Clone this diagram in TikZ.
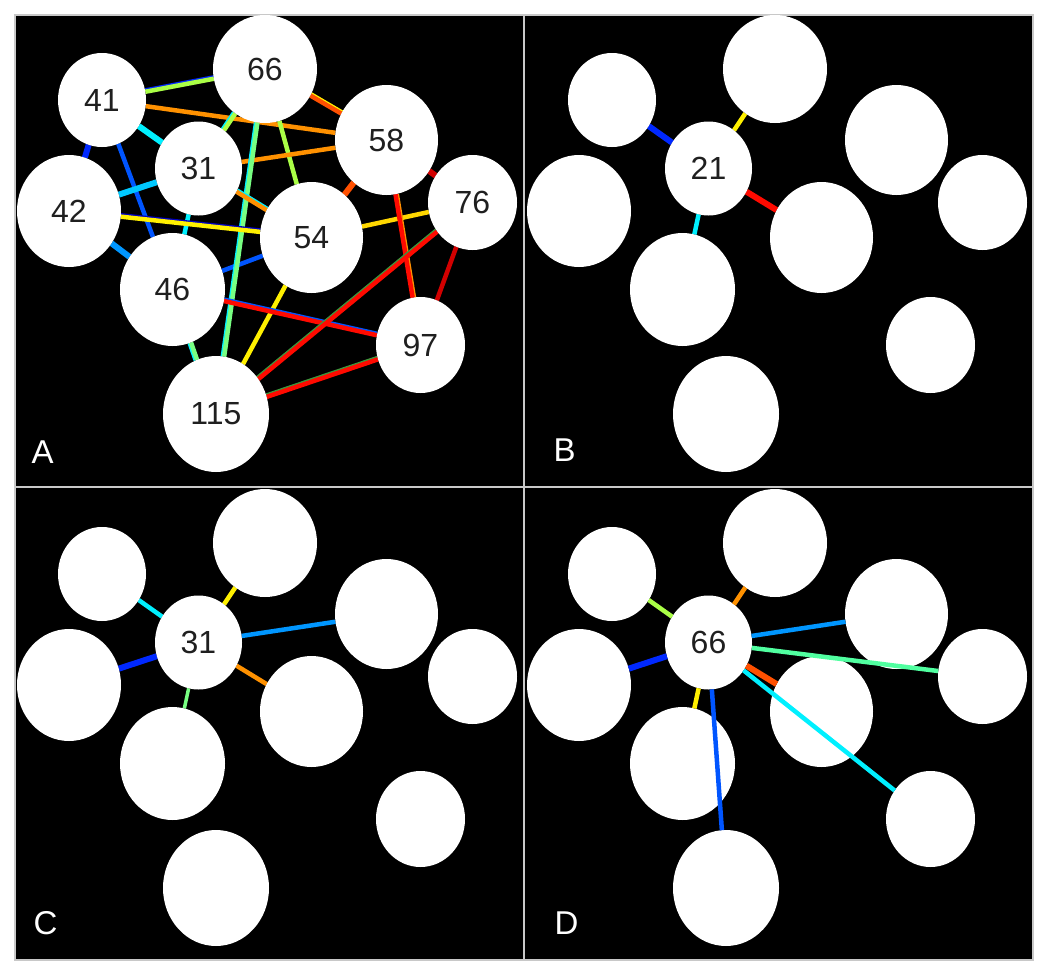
\documentclass[tikz,border=0pt]{standalone}
\usepackage{fontspec}
\setmainfont{Liberation Sans}
\usetikzlibrary{shapes.geometric}
\definecolor{jnavy}{RGB}{0,0,190}
\definecolor{jblue}{RGB}{0,40,255}
\definecolor{jroyal}{RGB}{0,85,255}
\definecolor{jazure}{RGB}{0,150,255}
\definecolor{jsky}{RGB}{0,200,255}
\definecolor{jcyan}{RGB}{0,240,255}
\definecolor{jmint}{RGB}{120,255,130}
\definecolor{jseafoam}{RGB}{80,255,160}
\definecolor{jlime}{RGB}{170,255,70}
\definecolor{jyellow}{RGB}{255,240,0}
\definecolor{jgold}{RGB}{255,215,0}
\definecolor{jorange}{RGB}{255,145,0}
\definecolor{jember}{RGB}{255,80,0}
\definecolor{jred}{RGB}{255,10,0}
\definecolor{jdark}{RGB}{210,0,0}
\definecolor{jgrass}{RGB}{60,150,60}
\definecolor{framegray}{RGB}{200,200,200}
\def\twotone(#1,#2)[#3/#4](#5){\draw[link,#4,line width=2pt,transform canvas={shift={(#5)}}] (#1) -- (#2); \draw[link,#3] (#1) -- (#2);}
\pgfdeclarelayer{back}
\pgfdeclarelayer{wires}
\pgfsetlayers{back,wires,main}

\begin{document}
\begin{tikzpicture}[x=1pt,y=-1pt,
		blob/.style 2 args={ellipse,fill=white,inner sep=0pt,outer sep=0pt,minimum width=#1,minimum height=#2},
		link/.style={line width=4.5pt},
		fatlink/.style={line width=6pt},
		num/.style={text=black!88,font=\fontsize{32}{32}\selectfont},
		tag/.style={text=white,anchor=base west,font=\fontsize{33}{33}\selectfont}]
		%%%%% START %%%%%
		\useasboundingbox (0,0) rectangle (1050,977);
		
		\begin{pgfonlayer}{back}
		\fill[black] (15,15) rectangle (1033,960);
		\draw[line width=2pt, color=framegray] (15,15) rectangle (1033,960);
		\draw[line width=2pt, color=framegray] (524,15) -- (524,960);
		\draw[line width=2pt, color=framegray] (15,487) -- (1033,487);
		\end{pgfonlayer}
		
		% same blobs in every panel
		\foreach \p/\dx/\dy in {a/0/0,b/510/0,c/0/474,d/510/474}{
			\foreach \k/\x/\y/\w/\h in {41/102/100/88/94, 66/265/69/104/108, 58/386.5/140/103/110, 31/198.5/168.5/87/94, 76/472.5/202.5/89/95, 42/69/211/104/112, 54/311.5/237.5/103/111, 46/172.5/289.5/105/113, 97/420.5/345/89/96, 115/216/414/106/116}
				\node[blob={\w}{\h}] (\p\k) at (\x+\dx,\y+\dy) {};
		}
		
		% A: all links
		\begin{pgfonlayer}{wires}
		\draw[link, color=jorange] (a41) -- (a58);
		\draw[fatlink, color=jcyan] (a41) -- (a31);
		\draw[fatlink, color=jblue] (a41) -- (a42);
		\draw[link, color=jroyal] (a41) -- (a46);
		\draw[link, color=jlime] (a66) -- (a54);
		\draw[link, color=jorange] (a31) -- (a58);
		\draw[fatlink, color=jsky] (a31) -- (a42);
		\draw[link, color=jcyan] (a31) -- (a46);
		\draw[fatlink, color=jazure] (a42) -- (a46);
		\draw[link, color=jroyal] (a46) -- (a54);
		\draw[link, color=jyellow] (a54) -- (a115);
		\draw[fatlink, color=jember] (a54) -- (a58);
		\draw[link, color=jgold] (a54) -- (a76);
		\draw[fatlink, color=jdark] (a58) -- (a76);
		\draw[link, color=jdark] (a76) -- (a97);
		\twotone(a41,a66)[jlime/jblue](0pt,2.6pt)
		\twotone(a66,a31)[jlime/jcyan](-2.3pt,1.5pt)
		\twotone(a66,a58)[jember/jyellow](1.3pt,2.2pt)
		\twotone(a66,a115)[jmint/jcyan](-2.6pt,0pt)
		\twotone(a31,a54)[jorange/jcyan](1.3pt,2.2pt)
		\twotone(a42,a54)[jyellow/jnavy](0.3pt,2.6pt)
		\twotone(a46,a97)[jred/jroyal](0.5pt,2.6pt)
		\twotone(a46,a115)[jmint/jcyan](-2.5pt,-0.9pt)
		\twotone(a58,a97)[jred/jorange](2.6pt,0pt)
		\twotone(a76,a115)[jred/jgrass](-1.7pt,2pt)
		\twotone(a97,a115)[jred/jgrass](-0.8pt,2.5pt)
		
		% B
		\draw[fatlink, color=jblue] (b31) -- (b41);
		\draw[link, color=jyellow] (b31) -- (b66);
		\draw[fatlink, color=jred] (b31) -- (b54);
		\draw[link, color=jcyan] (b31) -- (b46);
		
		% C
		\draw[link, color=jcyan] (c31) -- (c41);
		\draw[link, color=jyellow] (c31) -- (c66);
		\draw[fatlink, color=jblue] (c31) -- (c42);
		\draw[link, color=jazure] (c31) -- (c58);
		\draw[link, color=jorange] (c31) -- (c54);
		\draw[line width=3.5pt, color=jmint] (c31) -- (c46);
		\end{pgfonlayer}
		
		% D: drawn over the blobs
		\draw[link, color=jlime] (d31) -- (d41);
		\draw[link, color=jorange] (d31) -- (d66);
		\draw[fatlink, color=jblue] (d31) -- (d42);
		\draw[link, color=jazure] (d31) -- (d58);
		\draw[link, color=jseafoam] (d31) -- (d76);
		\draw[fatlink, color=jember] (d31) -- (d54);
		\draw[link, color=jcyan] (d31) -- (d97);
		\draw[link, color=jyellow] (d31) -- (d46);
		\draw[link, color=jroyal] (d31) -- (d115);
		
		% numbers
		\foreach \k in {41,66,58,31,76,42,54,46,97,115}
			\node[num] (t\k) at (a\k) {\k};
		\node[num] (tb) at (b31) {21};
		\node[num] (tc) at (c31) {31};
		\node[num] (td) at (d31) {66};
		
		\node[tag] (tagA) at (28,463) {A};
		\node[tag] (tagB) at (550,461) {B};
		\node[tag] (tagC) at (30,934) {C};
		\node[tag] (tagD) at (551,934) {D};
		%%%%% END %%%%%
	\end{tikzpicture}
\end{document}
